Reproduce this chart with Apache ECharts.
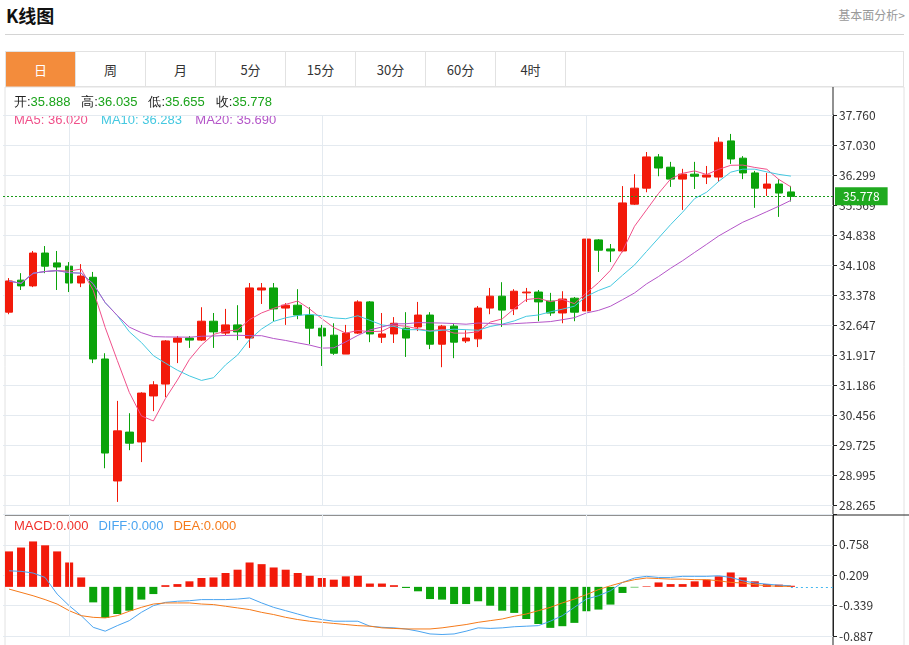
<!DOCTYPE html>
<html><head><meta charset="utf-8">
<script src="https://cdn.jsdelivr.net/npm/echarts@6/dist/echarts.min.js"></script>
<style>
body{margin:0;background:#fff;font-family:"Noto Sans CJK SC","Noto Sans",sans-serif;}
#wrap{position:relative;width:909px;height:645px;overflow:hidden;}
#title{position:absolute;left:6px;top:2px;font-size:18px;font-weight:bold;color:#111;}
#more{position:absolute;right:4px;top:6px;font-size:12px;color:#999;}
#hr{position:absolute;left:5px;right:5px;top:34px;border-top:1px solid #d4d4d4;}
#tabs{position:absolute;left:5px;top:51px;width:899px;height:36px;border:1px solid #e2e2e2;box-sizing:border-box;}
.tab{position:absolute;top:0;height:35px;width:70px;line-height:35px;text-align:center;font-size:13px;color:#333;border-right:1px solid #e2e2e2;box-sizing:border-box;}
.tab.on{background:#f38c3c;color:#fff;}
#c{position:absolute;left:0;top:0;width:909px;height:645px;}
</style></head><body>
<div id="wrap">
<div id="title">K线图</div><div id="more">基本面分析&gt;</div><div id="hr"></div>
<div id="tabs"></div>
<div id="c"></div>
</div>
<script>
const tabNames=['日','周','月','5分','15分','30分','60分','4时'];
// candle data: [open, close, low, high]
const candles=[
[32.96,33.72,32.91,33.79],[33.74,33.60,33.50,33.91],[33.60,34.40,33.57,34.45],[34.40,34.08,33.91,34.57],
[34.16,34.06,33.50,34.45],[34.08,33.67,33.45,34.18],[33.67,33.84,33.57,34.13],[33.81,31.82,31.72,33.94],
[31.82,29.53,29.16,31.96],[28.85,30.07,28.34,30.80],[30.04,29.77,29.60,30.50],[29.80,30.99,29.31,31.01],
[30.92,31.19,30.55,31.28],[31.21,32.26,30.89,32.28],[32.23,32.33,31.72,32.38],[32.33,32.28,32.09,32.38],
[32.28,32.74,32.26,33.08],[32.74,32.48,32.09,32.94],[32.45,32.65,32.40,33.04],[32.65,32.48,32.28,33.13],
[32.33,33.55,32.09,33.67],[33.50,33.55,33.16,33.67],[33.55,33.04,32.74,33.67],[33.06,33.13,32.65,33.18],
[33.13,32.89,32.79,33.52],[32.89,32.57,32.18,33.08],[32.57,32.38,31.65,32.65],[32.40,31.96,31.92,32.69],
[31.94,32.45,31.94,32.65],[32.45,33.21,32.43,33.25],[33.21,32.43,32.23,33.23],[32.35,32.43,32.21,32.94],
[32.43,32.69,32.21,32.84],[32.57,32.33,31.87,32.96],[32.60,32.89,32.50,33.21],[32.89,32.18,32.06,32.96],
[32.18,32.62,31.62,32.65],[32.62,32.23,31.84,32.67],[32.26,32.33,32.21,32.52],[32.31,33.06,32.11,33.11],
[33.06,33.35,32.91,33.55],[33.35,33.01,32.60,33.69],[33.04,33.47,32.89,33.52],[33.43,33.45,33.21,33.55],
[33.45,33.21,32.74,33.50],[33.23,32.94,32.87,33.43],[32.94,33.28,32.69,33.47],[33.30,32.96,32.74,33.33],
[32.99,34.74,32.96,34.76],[34.72,34.47,33.94,34.74],[34.50,34.45,34.18,34.62],[34.45,35.62,34.42,36.03],
[35.59,35.98,35.57,36.32],[35.98,36.74,35.88,36.86],[36.74,36.47,36.27,36.81],[36.49,36.20,36.01,36.62],
[36.20,36.32,35.45,36.45],[36.32,36.27,35.96,36.62],[36.25,36.30,36.08,36.52],[36.25,37.10,36.13,37.22],
[37.13,36.69,36.57,37.30],[36.71,36.35,36.20,36.76],[36.35,35.98,35.50,36.40],[35.98,36.08,35.79,36.35],
[36.08,35.86,35.28,36.20],[35.888,35.778,35.655,36.035]];
const macd=[0.64,0.71,0.82,0.75,0.64,0.44,0.17,-0.28,-0.56,-0.49,-0.43,-0.23,-0.13,0.03,0.05,0.10,0.16,0.17,0.25,0.31,0.44,0.41,0.35,0.31,0.25,0.20,0.16,0.13,0.19,0.20,0.06,0.06,0.03,-0.02,-0.08,-0.22,-0.23,-0.31,-0.31,-0.26,-0.34,-0.43,-0.47,-0.58,-0.67,-0.74,-0.71,-0.65,-0.44,-0.41,-0.32,-0.11,-0.01,0.01,0.08,0.05,0.05,0.10,0.13,0.19,0.26,0.17,0.10,0.05,0.04,0.02];
const diff=[0.29,0.28,0.25,0.17,-0.13,-0.34,-0.52,-0.73,-0.80,-0.70,-0.61,-0.46,-0.34,-0.28,-0.26,-0.25,-0.23,-0.23,-0.23,-0.22,-0.20,-0.29,-0.37,-0.43,-0.49,-0.55,-0.59,-0.62,-0.62,-0.62,-0.71,-0.73,-0.74,-0.76,-0.80,-0.85,-0.86,-0.85,-0.80,-0.74,-0.75,-0.74,-0.72,-0.71,-0.70,-0.62,-0.52,-0.37,-0.22,-0.16,-0.07,0.08,0.16,0.19,0.17,0.17,0.19,0.19,0.19,0.20,0.17,0.11,0.07,0.05,0.03,0.02];
const dea=[-0.04,-0.10,-0.16,-0.23,-0.31,-0.43,-0.52,-0.55,-0.56,-0.52,-0.44,-0.37,-0.31,-0.29,-0.29,-0.29,-0.31,-0.32,-0.35,-0.38,-0.41,-0.46,-0.50,-0.55,-0.59,-0.62,-0.64,-0.66,-0.68,-0.70,-0.71,-0.74,-0.75,-0.76,-0.76,-0.76,-0.74,-0.71,-0.68,-0.64,-0.61,-0.58,-0.53,-0.49,-0.43,-0.37,-0.29,-0.22,-0.14,-0.05,0.02,0.08,0.13,0.16,0.15,0.14,0.14,0.13,0.13,0.11,0.08,0.07,0.04,0.02,0.01,0.01];
const priceTicks=['28.265','28.995','29.725','30.456','31.186','31.917','32.647','33.378','34.108','34.838','35.569','36.299','37.030','37.760'];
const macdTicks=['-0.887','-0.339','0.209','0.758',''];
const lastPrice=35.778;
const PAD=3; // empty slots on the right
const cats=[];for(let i=0;i<candles.length+PAD;i++)cats.push(String(i+1));
function ma(n){return candles.map((c,i)=>{let s=0,k=0;for(let j=Math.max(0,i-n+1);j<=i;j++){s+=candles[j][1];k++;}return +(s/k).toFixed(3);});}
const tabs=document.getElementById('tabs');
tabNames.forEach((t,i)=>{const d=document.createElement('div');d.className='tab'+(i===0?' on':'');d.style.left=(i*70)+'px';d.textContent=t;tabs.appendChild(d);});
const chart=echarts.init(document.getElementById('c'));
const UP='#f21a0a',DN='#0aa30a';
const vlines=[5,26,48].map(i=>({xAxis:cats[i]}));
const lastCat=cats[candles.length-1], endCat=cats[cats.length-1];
chart.setOption({
 animation:false,
 textStyle:{fontFamily:'"Noto Sans CJK SC","Noto Sans",sans-serif'},
 grid:[{left:3,right:76,top:115,bottom:140},{left:3,right:76,top:514.5,bottom:9}],
 xAxis:[{type:'category',data:cats,gridIndex:0,axisLine:{show:false},axisTick:{show:false},axisLabel:{show:false},boundaryGap:true},
        {type:'category',data:cats,gridIndex:1,axisLine:{show:false},axisTick:{show:false},axisLabel:{show:false},boundaryGap:true}],
 yAxis:[{type:'value',gridIndex:0,position:'right',min:28.265,max:28.265+0.73046*13,interval:0.73046,
   axisLine:{show:true,lineStyle:{color:'#222'}},axisTick:{show:true,length:4,lineStyle:{color:'#222'}},
   axisLabel:{color:'#333',fontSize:12,margin:6,formatter:(v,i)=>priceTicks[i]},splitLine:{lineStyle:{color:'#e4eaf0'}}},
  {type:'value',gridIndex:1,position:'right',min:-0.887,max:-0.887+0.54833*4,interval:0.54833,
   axisLine:{show:true,lineStyle:{color:'#222'}},axisTick:{show:true,length:4,lineStyle:{color:'#222'}},
   axisLabel:{color:'#333',fontSize:12,margin:6,formatter:(v,i)=>macdTicks[i]},splitLine:{lineStyle:{color:'#e4eaf0'}}}],
 series:[
  {type:'candlestick',data:candles,barWidth:8,itemStyle:{color:UP,color0:DN,borderColor:UP,borderColor0:DN,borderWidth:1},
   markLine:{silent:true,symbol:'none',data:[
     {yAxis:lastPrice,lineStyle:{color:'#1a9a1a',type:[2,2],width:1},label:{show:true,position:'end',formatter:lastPrice.toFixed(3),color:'#fff',backgroundColor:'#1faa1f',padding:[3,8,3,8],fontSize:12,distance:2}},
     ...vlines.map(v=>({...v,lineStyle:{color:'#e4eaf0',type:'solid',width:1},label:{show:false}}))]}},
  {type:'line',data:ma(5),showSymbol:false,lineStyle:{color:'#f0508a',width:1}},
  {type:'line',data:ma(10),showSymbol:false,lineStyle:{color:'#44c8e0',width:1}},
  {type:'line',data:ma(20),showSymbol:false,lineStyle:{color:'#b455c8',width:1}},
  {type:'bar',xAxisIndex:1,yAxisIndex:1,data:macd.map(v=>({value:v,itemStyle:{color:v>=0?UP:DN}})),barWidth:8,
   markLine:{silent:true,symbol:'none',data:[
     [{coord:[lastCat,0],lineStyle:{color:'#44b8f0',type:[2,3],width:1},label:{show:false}},{x:833,coord:[endCat,0]}],
     ...vlines.map(v=>({...v,lineStyle:{color:'#e4eaf0',type:'solid'},label:{show:false}}))]}},
  {type:'line',xAxisIndex:1,yAxisIndex:1,data:diff,showSymbol:false,lineStyle:{color:'#4aa4f0',width:1}},
  {type:'line',xAxisIndex:1,yAxisIndex:1,data:dea,showSymbol:false,lineStyle:{color:'#f57a1a',width:1}}
 ],
 graphic:[
  {type:'rect',shape:{x:5,y:87,width:899,height:560},style:{fill:'none',stroke:'#e2e2e2'},z:-1},
  {type:'line',shape:{x1:833,y1:87,x2:833,y2:645},style:{stroke:'#222',lineWidth:1}},
  {type:'line',shape:{x1:5,y1:515,x2:909,y2:515},style:{stroke:'#222',lineWidth:1}},
  {type:'text',left:14,top:96,style:{rich:{k:{fill:'#222',fontSize:13},v:{fill:'#1aa31a',fontSize:13}},
    text:'{k|开:}{v|35.888}{k|   高:}{v|36.035}{k|   低:}{v|35.655}{k|   收:}{v|35.778}'}},
  {type:'text',left:14,top:114,style:{rich:{a:{fill:'#f0508a',fontSize:13},b:{fill:'#44c8e0',fontSize:13},c:{fill:'#b455c8',fontSize:13}},
    text:'{a|MA5: 36.020}    {b|MA10: 36.283}    {c|MA20: 35.690}'}},
  {type:'text',left:14,top:520,style:{rich:{a:{fill:'#f0302a',fontSize:13},b:{fill:'#4aa4f0',fontSize:13},c:{fill:'#f57a1a',fontSize:13}},
    text:'{a|MACD:0.000}   {b|DIFF:0.000}   {c|DEA:0.000}'}}
 ]
});
</script></body></html>
